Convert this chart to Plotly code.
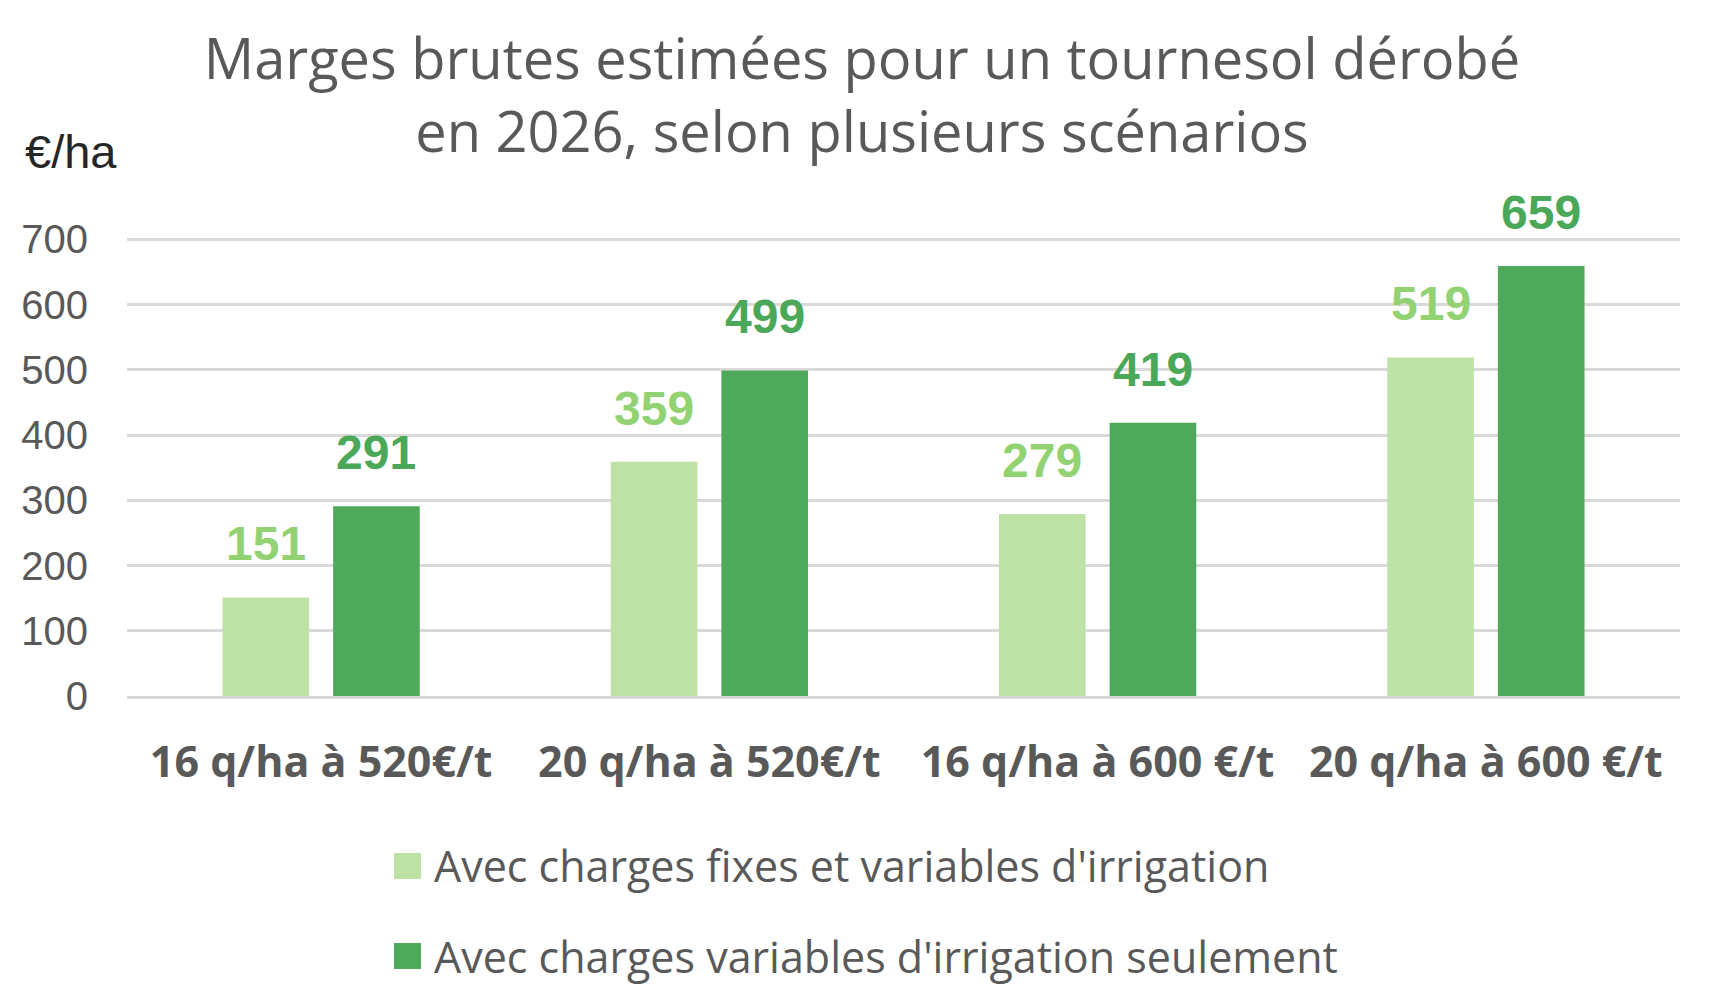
import plotly.graph_objects as go

# ---------------- data ----------------
categories = ["16 q/ha à 520€/t", "20 q/ha à 520€/t", "16 q/ha à 600 €/t", "20 q/ha à 600 €/t"]
series_names = [
    "Avec charges fixes et variables d'irrigation",
    "Avec charges variables d'irrigation seulement",
]
values_fixed_and_variable = [151, 359, 279, 519]
values_variable_only = [291, 499, 419, 659]
y_tick_values = [0, 100, 200, 300, 400, 500, 600, 700]
title_text = "Marges brutes estimées pour un tournesol dérobé<br>en 2026, selon plusieurs scénarios"
unit_text = "€/ha"

# ---------------- style ----------------
W, H = 1724, 1006
M = dict(l=127, r=44, t=238, b=310, autoexpand=False)
Y_RANGE = [0, 702]
BARGAP = 0.43
BARGROUPGAP = 0.217
bar_colors = ["#BEE1A5", "#4EAA5A"]
label_colors = ["#93D272", "#4AA858"]
grey = "#595959"
grid = "#D9D9D9"

series_values = [values_fixed_and_variable, values_variable_only]

fig = go.Figure()
for name, vals, col in zip(series_names, series_values, bar_colors):
    fig.add_trace(go.Bar(x=categories, y=vals, name=name, marker=dict(color=col, line=dict(width=0)),
                         showlegend=False, hoverinfo="x+y"))

plot_w = W - M["l"] - M["r"]
plot_h = H - M["t"] - M["b"]


def px_x(px):
    return (px - M["l"]) / plot_w


def px_y(py):
    return (H - M["b"] - py) / plot_h


# data labels, horizontally offset to bar centres
cat_w = plot_w / len(categories)
slot = (1 - BARGAP) * cat_w / len(series_values)
offsets = [-slot / 2, slot / 2]
annotations = []
for j, vals in enumerate(series_values):
    for cat, v in zip(categories, vals):
        annotations.append(dict(
            x=cat, y=v, xref="x", yref="y", text=str(v), showarrow=False,
            xanchor="center", yanchor="bottom", xshift=offsets[j], yshift=25,
            font=dict(family="Liberation Sans", size=48, color=label_colors[j], weight="bold"),
        ))

# unit label
annotations.append(dict(
    text=unit_text, xref="paper", yref="paper", x=px_x(23), y=px_y(152),
    xanchor="left", yanchor="middle", showarrow=False,
    font=dict(family="Liberation Sans", size=47, color="#262626"),
))

# legend (large square swatches + text)
shapes = []
legend_rows_y = [866, 956]
for name, col, ry in zip(series_names, bar_colors, legend_rows_y):
    shapes.append(dict(type="rect", xref="paper", yref="paper",
                       x0=px_x(394), x1=px_x(421), y0=px_y(ry - 13), y1=px_y(ry + 13),
                       fillcolor=col, line=dict(width=0)))
    annotations.append(dict(
        text=name, xref="paper", yref="paper", x=px_x(432), y=px_y(ry),
        xanchor="left", yanchor="middle", showarrow=False,
        font=dict(family="Open Sans", size=43, color=grey),
    ))

fig.update_layout(
    width=W, height=H,
    margin=M,
    paper_bgcolor="white", plot_bgcolor="white",
    barmode="group", bargap=BARGAP, bargroupgap=BARGROUPGAP,
    title=dict(text=title_text, x=0.5, xref="container", xanchor="center",
               y=1 - 79 / H, yref="container", yanchor="middle",
               font=dict(family="Open Sans", size=56, color=grey)),
    annotations=annotations,
    shapes=shapes,
    showlegend=False,
    xaxis=dict(showgrid=False, showline=True, linecolor=grid, linewidth=3,
               ticks="", ticklabelstandoff=26, tickangle=0, automargin=False,
               tickfont=dict(family="Open Sans", size=43, color=grey, weight="bold")),
    yaxis=dict(range=Y_RANGE, tickvals=y_tick_values, showgrid=True, gridcolor=grid, gridwidth=3,
               zeroline=False, showline=False, ticks="", ticklabelstandoff=38, automargin=False,
               tickfont=dict(family="Liberation Sans", size=40, color=grey)),
)

fig.write_html("out.html")
